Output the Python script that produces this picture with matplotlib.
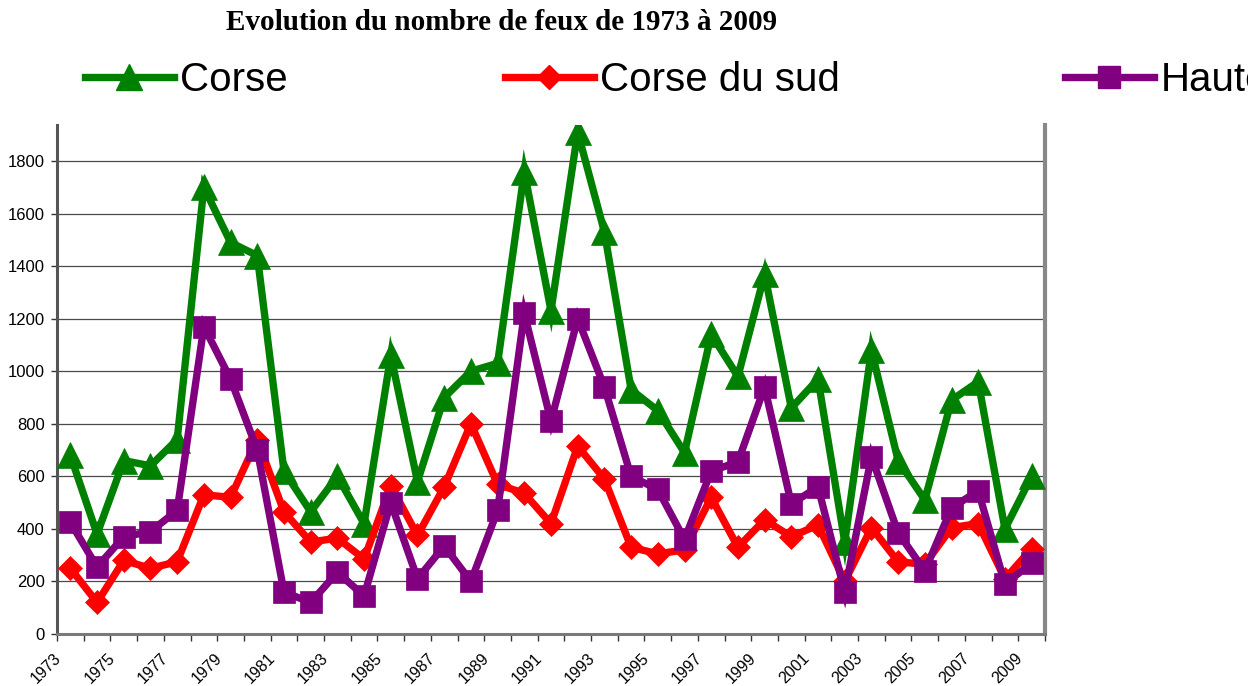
import matplotlib
matplotlib.use("Agg")
import matplotlib.pyplot as plt
from matplotlib.lines import Line2D
from matplotlib.transforms import ScaledTranslation
import numpy as np

years = list(range(1973, 2010))
corse = [680, 380, 660, 640, 740, 1700, 1490, 1440, 620, 465, 600, 420, 1060, 580,
         900, 1000, 1030, 1760, 1230, 1910, 1530, 930, 850, 690, 1140, 980, 1370,
         860, 970, 350, 1080, 660, 510, 890, 960, 400, 600]
corse_sud = [250, 120, 280, 250, 275, 530, 520, 740, 465, 350, 365, 285, 565, 375,
             560, 800, 570, 535, 420, 715, 590, 330, 305, 320, 520, 330, 435,
             370, 415, 200, 405, 275, 265, 405, 420, 210, 325]
haute_corse = [425, 255, 370, 390, 470, 1170, 970, 700, 160, 120, 235, 145, 500, 210,
               335, 200, 470, 1220, 810, 1200, 940, 600, 550, 360, 620, 655, 940,
               495, 560, 160, 675, 385, 240, 480, 545, 190, 270]
series_names = ["Corse", "Corse du sud", "Haute-Corse"]
series_colors = ["#008000", "#FF0000", "#800080"]
series_markers = ["^", "D", "s"]
series_msize = [19, 12, 16.5]
title = "Evolution du nombre de feux de 1973 à 2009"
yticks = list(range(0, 2000, 200))

W, H = 1248, 686
fig = plt.figure(figsize=(W / 100, H / 100), dpi=100)
ax = fig.add_axes([57 / W, 1 - 634 / H, (1045 - 57) / W, (634 - 125) / H])

x = np.arange(len(years))
lines = []
for vals, c, m, ms in zip([corse, corse_sud, haute_corse], series_colors, series_markers, series_msize):
    ln, = ax.plot(x, vals, color=c, lw=5.3, marker=m, ms=ms, mfc=c, mec=c, mew=0.5,
                  solid_joinstyle="miter", zorder=3)
    lines.append(ln)

ax.set_xlim(-0.5, len(years) - 0.5)
ax.set_ylim(0, 1937)
ax.set_yticks(yticks)
ax.set_yticklabels([str(v) for v in yticks], fontsize=12, family="Liberation Sans")
ax.yaxis.grid(True, color="#4a4a4a", lw=0.9)
ax.set_axisbelow(True)

# major ticks at category boundaries, labels at centres every 2 years
ax.set_xticks(np.arange(-0.5, len(years), 1))
ax.set_xticklabels([])
ax.set_xticks(x[::2], [str(y) for y in years[::2]], minor=True)
ax.tick_params(axis="x", which="major", length=5, width=1, color="#333333", direction="out")
ax.tick_params(axis="x", which="minor", length=0, pad=12, labelsize=11.5)
for lbl in ax.get_xticklabels(minor=True):
    lbl.set_rotation(45)
    lbl.set_ha("right")
    lbl.set_va("top")
    lbl.set_family("Liberation Sans")
    lbl.set_transform(lbl.get_transform() + ScaledTranslation(-0.06, 0, fig.dpi_scale_trans))
ax.tick_params(axis="y", length=4, width=1, color="#333333", pad=5)

ax.spines["top"].set_visible(False)
ax.spines["left"].set_color("#555555")
ax.spines["left"].set_linewidth(2.2)
ax.spines["bottom"].set_color("#7a7a7a")
ax.spines["bottom"].set_linewidth(2.2)
ax.spines["right"].set_color("#888888")
ax.spines["right"].set_linewidth(3)

fig.text(502 / W, 1 - 23 / H, title, ha="center", va="center", fontsize=21,
         fontweight="bold", family="Liberation Serif")

# legend: one entry per series placed along the top
leg_x = [85, 505, 1065]
for ln, name, lx in zip(lines, series_names, leg_x):
    h = Line2D([], [], color=ln.get_color(), lw=5.3, marker=ln.get_marker(),
               ms=ln.get_markersize(), mfc=ln.get_color(), mec=ln.get_color())
    leg = fig.legend([h], [name], loc="center left", bbox_to_anchor=(lx / W, 1 - 80 / H),
                     frameon=False, borderpad=0, borderaxespad=0, handlelength=2.2,
                     handletextpad=0.17, prop={"family": "Liberation Sans", "size": 29})

fig.savefig("out.png", dpi=100)
